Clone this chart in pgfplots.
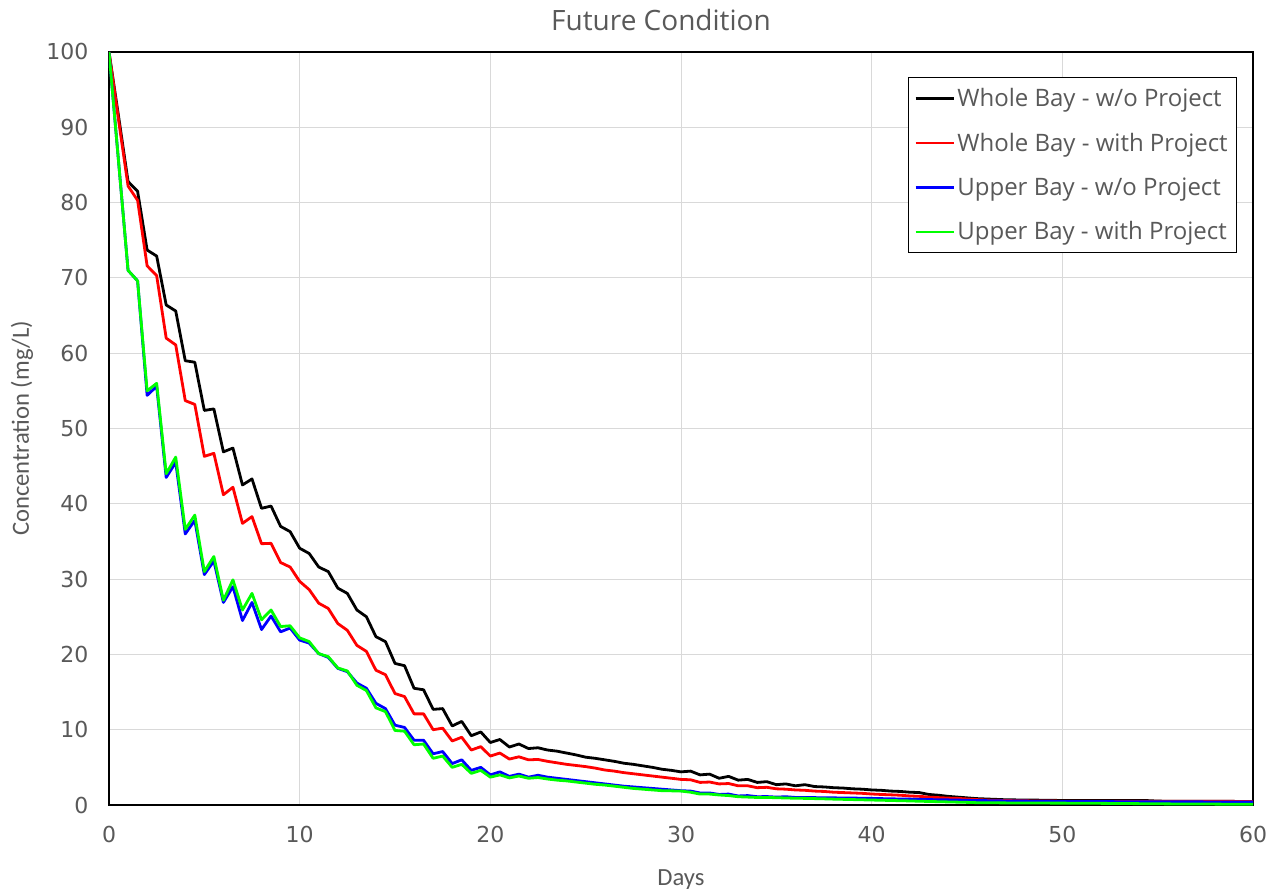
\documentclass[border=0pt]{standalone}
\usepackage{fontspec}
\usepackage{pgfplots}
\usepackage{pgfplotstable}
\pgfplotsset{compat=1.18}
\setmainfont{Open Sans}
\newfontfamily\tickfont{DejaVu Sans}
\newfontfamily\labfont{Carlito}
\definecolor{txt}{HTML}{595959}
\definecolor{gridc}{HTML}{D9D9D9}
\definecolor{lgreen}{HTML}{00FF00}
\pgfplotstableread{
x W0 W1 U0 U1
0 100 100 100 100
0.5 91.5 91.0 85.5 85.5
1 82.8 82.2 71.0 71.0
1.5 81.5 80.3 69.6 69.6
2 73.7 71.6 54.4 55.0
2.5 72.9 70.3 55.6 56.0
3 66.4 62.0 43.5 44.0
3.5 65.6 61.1 45.5 46.2
4 59.0 53.7 36.0 36.6
4.5 58.8 53.2 37.8 38.5
5 52.4 46.3 30.6 31.0
5.5 52.6 46.7 32.4 33.0
6 46.9 41.2 26.9 27.2
6.5 47.4 42.2 29.0 29.9
7 42.5 37.4 24.5 25.9
7.5 43.3 38.3 26.9 28.1
8 39.4 34.7 23.3 24.6
8.5 39.7 34.75 25.1 25.9
9 37.0 32.2 23.0 23.7
9.5 36.3 31.6 23.5 23.8
10 34.1 29.7 21.9 22.2
10.5 33.4 28.6 21.5 21.7
11 31.6 26.8 20.1 20.1
11.5 31.0 26.1 19.6 19.7
12 28.8 24.1 18.15 18.2
12.5 28.1 23.2 17.7 17.8
13 25.9 21.2 16.2 15.9
13.5 25.0 20.4 15.5 15.2
14 22.35 17.9 13.5 12.9
14.5 21.7 17.3 12.8 12.4
15 18.8 14.8 10.6 9.9
15.5 18.5 14.4 10.3 9.8
16 15.5 12.1 8.6 8.0
16.5 15.3 12.1 8.6 8.1
17 12.7 10.0 6.8 6.2
17.5 12.8 10.2 7.1 6.5
18 10.5 8.5 5.5 5.0
18.5 11.1 9.0 6.0 5.4
19 9.2 7.3 4.6 4.2
19.5 9.7 7.75 5.0 4.6
20 8.3 6.5 4.0 3.7
20.5 8.7 6.9 4.4 4.0
21 7.7 6.1 3.8 3.6
21.5 8.1 6.4 4.1 3.85
22 7.5 6.0 3.7 3.55
22.5 7.6 6.05 3.95 3.65
23 7.3 5.8 3.7 3.45
23.5 7.15 5.6 3.55 3.3
24 6.9 5.4 3.4 3.2
24.5 6.65 5.25 3.25 3.05
25 6.35 5.1 3.1 2.9
25.5 6.2 4.9 2.95 2.75
26 6.0 4.65 2.8 2.65
26.5 5.8 4.5 2.65 2.5
27 5.55 4.3 2.5 2.35
27.5 5.4 4.15 2.4 2.2
28 5.2 4.0 2.3 2.1
28.5 5.0 3.85 2.2 2.0
29 4.75 3.7 2.1 1.9
29.5 4.6 3.55 2.0 1.88
30 4.4 3.4 1.9 1.85
30.5 4.5 3.35 1.85 1.7
31 4.0 3.0 1.6 1.45
31.5 4.1 3.05 1.6 1.45
32 3.55 2.8 1.4 1.33
32.5 3.8 2.85 1.45 1.25
33 3.3 2.55 1.2 1.1
33.5 3.4 2.55 1.25 1.05
34 3.0 2.3 1.1 1.0
34.5 3.1 2.35 1.12 1.0
35 2.7 2.15 1.05 0.97
35.5 2.8 2.1 1.1 0.93
36 2.55 2.0 1.0 0.9
36.5 2.7 1.95 1.0 0.88
37 2.45 1.85 0.98 0.85
37.5 2.4 1.8 0.96 0.82
38 2.3 1.7 0.95 0.78
38.5 2.25 1.65 0.93 0.75
39 2.15 1.6 0.92 0.72
39.5 2.1 1.55 0.9 0.69
40 2.0 1.46 0.88 0.66
40.5 1.95 1.4 0.85 0.63
41 1.85 1.35 0.82 0.6
41.5 1.8 1.3 0.8 0.57
42 1.7 1.2 0.78 0.54
42.5 1.65 1.15 0.75 0.5
43 1.4 1.05 0.72 0.47
43.5 1.3 0.98 0.7 0.44
44 1.15 0.92 0.68 0.41
44.5 1.05 0.88 0.66 0.38
45 0.95 0.8 0.62 0.35
45.5 0.85 0.72 0.6 0.31
46 0.8 0.66 0.58 0.3
46.5 0.75 0.62 0.56 0.29
47 0.7 0.6 0.54 0.28
47.5 0.68 0.57 0.53 0.27
48 0.66 0.55 0.52 0.27
48.5 0.65 0.54 0.5 0.26
49 0.64 0.53 0.49 0.26
49.5 0.62 0.52 0.48 0.25
50 0.6 0.5 0.47 0.25
50.5 0.6 0.5 0.46 0.24
51 0.58 0.5 0.46 0.24
51.5 0.58 0.5 0.45 0.23
52 0.58 0.5 0.45 0.22
52.5 0.58 0.5 0.45 0.21
53 0.58 0.5 0.44 0.2
53.5 0.6 0.5 0.44 0.19
54 0.6 0.5 0.44 0.18
54.5 0.58 0.5 0.43 0.17
55 0.52 0.5 0.43 0.16
55.5 0.5 0.5 0.43 0.15
56 0.5 0.5 0.42 0.14
56.5 0.5 0.5 0.42 0.13
57 0.5 0.5 0.42 0.13
57.5 0.5 0.5 0.41 0.12
58 0.5 0.5 0.41 0.12
58.5 0.5 0.5 0.41 0.11
59 0.48 0.48 0.4 0.11
59.5 0.46 0.46 0.4 0.1
60 0.44 0.44 0.4 0.1
}\data
\begin{document}
\begin{tikzpicture}
\useasboundingbox (-81.75pt,-65.25pt) rectangle (875.25pt,603.75pt);
\begin{axis}[
  at={(0pt,0pt)}, anchor=south west,
  scale only axis,
  width=858pt, height=564.75pt,
  xmin=0, xmax=60, ymin=0, ymax=100,
  xtick={0,10,...,60}, ytick={0,10,...,100},
  major tick length=0pt,
  grid=major,
  major grid style={gridc, line width=0.75pt},
  axis line style={black, line width=1pt},
  /pgf/number format/assume math mode=true,
  ticklabel style={font=\tickfont\fontsize{16.5}{18}\selectfont, text=txt},
  yticklabel style={xshift=-12pt},
  xticklabel style={yshift=-12pt},
  legend cell align=left,
  legend style={at={(0.986,0.9668)}, anchor=north east,
    draw=black, line width=1pt, inner xsep=4.5pt, inner ysep=6pt,
    font=\fontsize{18}{20}\selectfont, text=txt, row sep=14.3pt},
  legend image code/.code={\draw[#1, line width=1.7pt] (0pt,0pt) -- (28.5pt,0pt);},
  every axis plot/.append style={line width=2.1pt, line join=round},
  clip mode=individual,
]
\addplot[black] table[x=x, y=W0] {\data};
\addlegendentry{Whole Bay - w/o Project}
\addplot[red] table[x=x, y=W1] {\data};
\addlegendentry{Whole Bay - with Project}
\addplot[blue] table[x=x, y=U0] {\data};
\addlegendentry{Upper Bay - w/o Project}
\addplot[lgreen] table[x=x, y=U1] {\data};
\addlegendentry{Upper Bay - with Project}
\node[font=\fontsize{21}{23}\selectfont, text=txt] at (rel axis cs:0.4825,1.0425) {Future Condition};
\node[font=\labfont\fontsize{18.5}{20}\selectfont, text=txt] at (rel axis cs:0.5,-0.0996) {Days};
\node[font=\labfont\fontsize{18.5}{20}\selectfont, text=txt, rotate=90] at (rel axis cs:-0.076,0.5) {Concentration (mg/L)};
\end{axis}
\end{tikzpicture}
\end{document}
